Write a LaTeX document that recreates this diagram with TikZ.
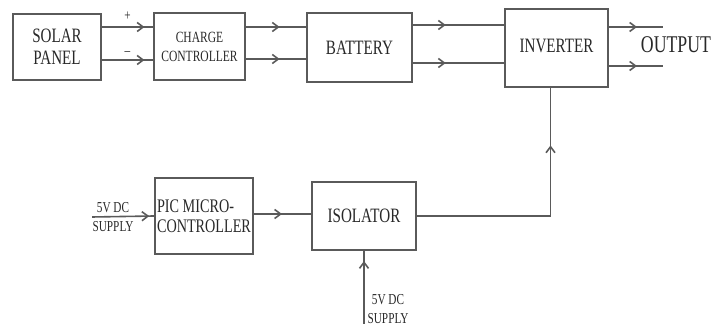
\documentclass[tikz,border=0pt]{standalone}
\usepackage{fontspec}
\setmainfont{Liberation Serif}[FakeStretch=0.74]
\usepackage{tikz}
\usetikzlibrary{arrows.meta,decorations.markings}
\definecolor{linegray}{RGB}{90,90,90}
\definecolor{inkgray}{RGB}{40,40,40}

\begin{document}
\begin{tikzpicture}[x=0.5pt,y=-0.5pt,>={Straight Barb[length=3pt,width=4.5pt]},
    block/.style={draw=linegray,line width=0.8pt,inner sep=0pt,text=inkgray,align=center,
      font=\fontsize{10.2}{10.8}\selectfont},
    wire/.style={draw=linegray,line width=0.8pt},
    flow/.style={wire,postaction={decorate},
      decoration={markings,mark=at position #1 with {\arrow[linegray]{>}}}},
    note/.style={text=inkgray,align=center,inner sep=0pt,font=\fontsize{7.6}{9.5}\selectfont}]
        \useasboundingbox (0,0) rectangle (728,324);
        \node[block,minimum width=44pt,minimum height=33pt] (solar) at (57,47) {SOLAR\\PANEL};
        \node[block,minimum width=45.5pt,minimum height=33.5pt,font=\fontsize{7.8}{9.5}\selectfont]
          (charge) at (199.5,46.5) {CHARGE\\CONTROLLER};
        \node[block,minimum width=52.5pt,minimum height=34.5pt] (battery) at (359.5,47.5) {BATTERY};
        \node[block,minimum width=51.5pt,minimum height=39pt] (inverter) at (556.5,48)
          {\raisebox{2.5pt}{INVERTER}};
        \node[block,minimum width=49pt,minimum height=38pt,align=left,font=\fontsize{9.6}{10}\selectfont]
          (pic) at (204,216) {PIC MICRO-\\CONTROLLER};
        \node[block,minimum width=52pt,minimum height=34pt] (isolator) at (364,216) {ISOLATOR};
        \node[text=inkgray,inner sep=0pt,font=\fontsize{12}{13}\selectfont] (output) at (676,45) {OUTPUT};
        \node[note] (supplyA) at (113,217) {5V DC\\SUPPLY};
        \node[note] (supplyB) at (388,309) {5V DC\\SUPPLY};
        \coordinate (outA) at (663,27);
        \coordinate (outB) at (663,66);
        \coordinate (supplyBin) at (364,324);
        \draw[flow=0.83] (solar.east |- 0,27) -- node[note,above=3pt] {+} (charge.west |- 0,27);
        \draw[flow=0.83] (solar.east |- 0,60) -- node[note,above=2pt] {--} (charge.west |- 0,60);
        \draw[flow=0.56] (charge.east |- 0,27) -- (battery.west |- 0,27);
        \draw[flow=0.56] (charge.east |- 0,59) -- (battery.west |- 0,59);
        \draw[flow=0.36] (battery.east |- 0,25) -- (inverter.west |- 0,25);
        \draw[flow=0.36] (battery.east |- 0,63) -- (inverter.west |- 0,63);
        \draw[flow=0.52] (inverter.east |- outA) -- (outA);
        \draw[flow=0.52] (inverter.east |- outB) -- (outB);
        \draw[flow=0.92] (supplyA.west) -- (pic.west);
        \draw[flow=0.49] (pic.east |- 0,214) -- (isolator.west |- 0,214);
        \draw[flow=0.78] (isolator.east) -| ([xshift=-3pt]inverter.south);
        \draw[flow=0.86] (supplyBin) -- (isolator.south);
      \end{tikzpicture}
\end{document}
